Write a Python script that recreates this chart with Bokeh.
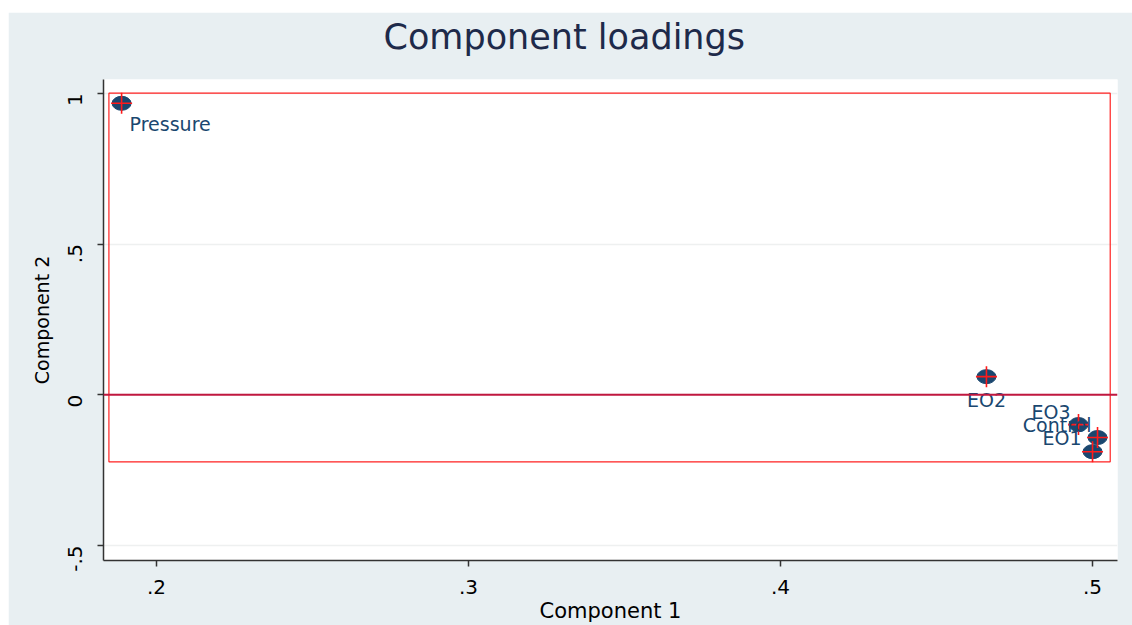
import math
from bokeh.plotting import figure
from bokeh.models import ColumnDataSource, FixedTicker, Range1d, Span, Title
from bokeh.core.properties import value
from bokeh.embed import file_html
from bokeh.resources import INLINE

# ---- data ----
names = ["Pressure", "EO2", "Control", "EO1", "EO3"]
comp1 = [0.1888, 0.466, 0.4955, 0.5016, 0.5000]
comp2 = [0.967, 0.060, -0.099, -0.142, -0.189]
x_ticks = [0.2, 0.3, 0.4, 0.5]
x_tick_labels = [".2", ".3", ".4", ".5"]
y_ticks = [-0.5, 0.0, 0.5, 1.0]
y_tick_labels = ["-.5", "0", ".5", "1"]
title_text = "Component loadings"

# ---- style (label placement) ----
lab_align = ["left", "center", "right", "right", "right"]
lab_dx = [8, 0, 13, -16, -22]
lab_dy = [21, 23, 0, 0, -40]

FONT = "DejaVu Sans"
BG = "#e8eff2"
NAVY = "#1a476f"

p = figure(width=1124, height=613, output_backend="svg", toolbar_location=None,
           x_range=Range1d(0.183, 0.508), y_range=Range1d(-0.55, 1.046),
           min_border_left=95, min_border_right=15, min_border_top=67, min_border_bottom=64,
           background_fill_color="white", border_fill_color=BG, outline_line_color=None,
           margin=(12, 0, 0, 8))

p.title.text = title_text
p.title.align = "left"
p.title.offset = 280
p.title.text_font = FONT
p.title.text_font_size = "35px"
p.title.text_font_style = "normal"
p.title.text_color = "#1e2a4a"
p.title.standoff = 0
# thin spacer between title and frame
p.add_layout(Title(text=" ", text_font=FONT, text_font_size="18px", standoff=0), "above")

# axes
for ax in (p.xaxis[0], p.yaxis[0]):
    ax.axis_line_color = "#333333"
    ax.axis_line_width = 1.5
    ax.major_tick_line_color = "#333333"
    ax.major_tick_line_width = 1.5
    ax.major_tick_in = 0
    ax.major_tick_out = 6
    ax.minor_tick_line_color = None
    ax.major_label_text_font = FONT
    ax.major_label_text_font_size = "20px"
    ax.major_label_text_color = "black"
    ax.axis_label_text_font = FONT
    ax.axis_label_text_font_size = "21px"
    ax.axis_label_text_font_style = "normal"
    ax.axis_label_text_color = "black"

p.yaxis.axis_label_text_font_size = "19px"
p.xaxis.ticker = FixedTicker(ticks=x_ticks)
p.xaxis.major_label_overrides = dict(zip(x_ticks, x_tick_labels))
p.yaxis.ticker = FixedTicker(ticks=y_ticks)
p.yaxis.major_label_overrides = dict(zip(y_ticks, y_tick_labels))
p.yaxis.major_label_orientation = math.pi / 2
p.xaxis.axis_label = "Component 1"
p.yaxis.axis_label = "Component 2"
p.xaxis.major_label_standoff = 13
p.xaxis.axis_label_standoff = 2
p.yaxis.major_label_standoff = 22
p.yaxis.axis_label_standoff = 6

p.xgrid.grid_line_color = None
p.ygrid.grid_line_color = "#eef0f0"
p.ygrid.grid_line_width = 1.5

# bounding box around the loadings (derived from the data)
xpad = 0.013 * (max(comp1) - min(comp1))
ypad = 0.029 * (max(comp2) - min(comp2))
bx0, bx1 = min(comp1) - xpad, max(comp1) + xpad
by0, by1 = min(comp2) - ypad, max(comp2) + ypad
p.quad(left=[bx0], right=[bx1], bottom=[by0], top=[by1],
       fill_color=None, line_color="#ff2020", line_width=1.2)

p.add_layout(Span(location=0, dimension="width", line_color="#c0173f", line_width=1.8))

src = ColumnDataSource(dict(x=comp1, y=comp2, name=names, align=lab_align,
                            dx=lab_dx, dy=lab_dy))
p.ellipse("x", "y", source=src, width=19, height=14, width_units="screen",
          height_units="screen", fill_color=NAVY, line_color=NAVY)
p.scatter("x", "y", source=src, marker="cross", size=21, line_color="#ff1a1a",
          line_width=1.6)
p.text("x", "y", text="name", source=src, x_offset="dx", y_offset="dy",
       text_align="align", text_baseline="middle", text_font=value(FONT),
       text_font_size="19px", text_color=NAVY)

open("out.html", "w").write(file_html(p, INLINE))
